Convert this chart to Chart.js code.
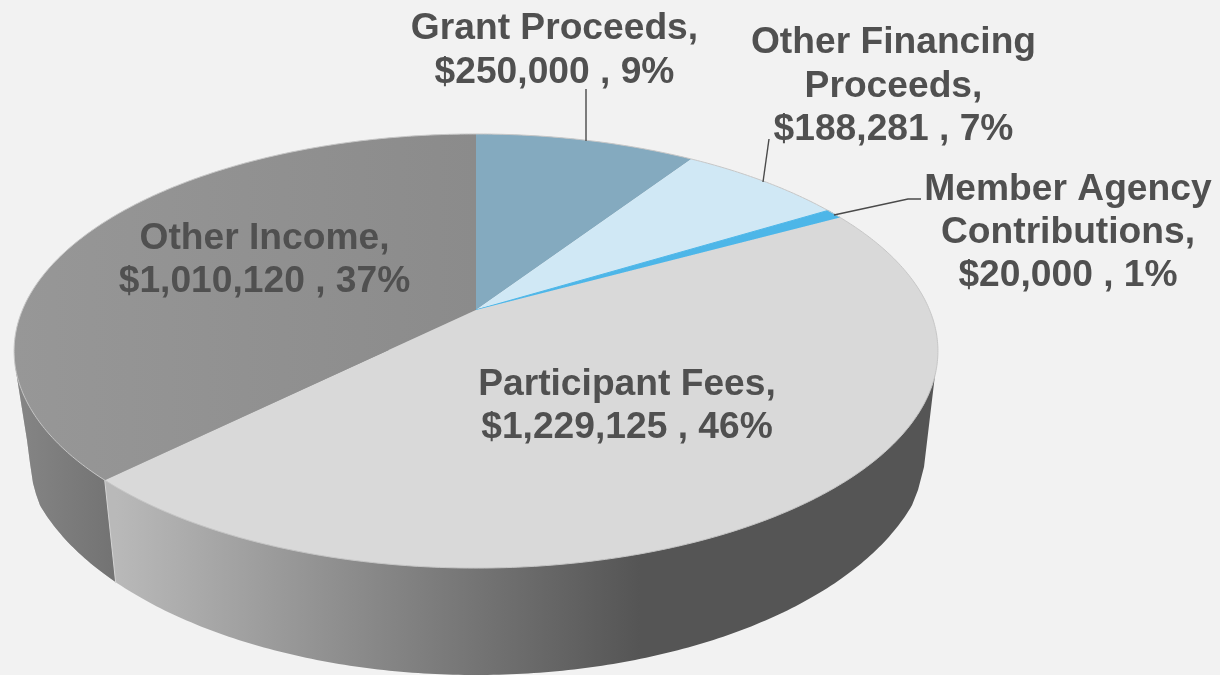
<!DOCTYPE html>
<html><head><meta charset="utf-8">
<style>html,body{margin:0;padding:0;background:#f2f2f2}canvas{display:block}</style>
<script src="https://cdn.jsdelivr.net/npm/chart.js@4"></script>
</head><body><canvas id="c" width="1220" height="675"></canvas>
<script>
const categories = ["Grant Proceeds","Other Financing Proceeds","Member Agency Contributions","Participant Fees","Other Income"];
const values = [250000,188281,20000,1229125,1010120];
const percents = [9,7,1,46,37];
const sliceColors = ["#84aabf","#d0e8f5","#4db6e8","#d9d9d9","#929292"];
const labelLines = [["Grant Proceeds,"],["Other Financing","Proceeds,"],["Member Agency","Contributions,"],["Participant Fees,"],["Other Income,"]];

// layout / style only
const labelPos = [[554.5,29],[893.5,43],[1068,189.5],[627,384.5],[264.5,238.5]];
const leaders = [[[586,89],[586,141]],[[769,139],[763,182]],[[834,215],[908,199],[921,199]],null,null];
const persp = {cx:476,cy:310,a:453.6,b:150.7,k:-0.189};
const base = {cx:476,cy:435,rx:456,ry:240};

function project(ux,uy){const w=1+persp.k*uy;return [persp.cx+persp.a*ux/w,(persp.cy+persp.b*uy)/w];}
function arcPts(a0,a1){const n=Math.max(2,Math.ceil((a1-a0)/0.01));const p=[];
  for(let i=0;i<=n;i++){const a=a0+(a1-a0)*i/n;p.push(project(Math.cos(a),Math.sin(a)));}return p;}
function poly(ctx,pts){pts.forEach((q,i)=>i?ctx.lineTo(q[0],q[1]):ctx.moveTo(q[0],q[1]));}
function poly2(ctx,pts){pts.forEach(q=>ctx.lineTo(q[0],q[1]));}
function wallPath(ctx){
  ctx.beginPath();
  poly(ctx,[[15,350],[15,365],[27,440],[30,463],[33,483],[36,494]]);
  const t0=Math.acos(-436/base.rx),t1=Math.acos(436/base.rx);
  for(let i=0;i<=200;i++){const t=t0+(t1-t0)*i/200;ctx.lineTo(base.cx+base.rx*Math.cos(t),base.cy+base.ry*Math.sin(t));}
  poly2(ctx,[[918,490],[924,467],[935,375],[937,350]]);
  ctx.closePath();
}

const pie3d = {
  id:'pie3d',
  beforeDatasetDraw(chart,args){
    const ctx=chart.ctx, arcs=chart.getDatasetMeta(0).data;
    // side wall
    const seamA=arcs[3].endAngle, s=project(Math.cos(seamA),Math.sin(seamA));
    const e=[s[0]+11,s[1]+103];
    ctx.save();
    wallPath(ctx);
    const g=ctx.createLinearGradient(116,0,640,0);
    g.addColorStop(0,'#b9b9b9');g.addColorStop(1,'#555555');
    ctx.fillStyle=g;ctx.fill();
    ctx.save();
    ctx.beginPath();poly(ctx,[[0,300],[s[0],300],[s[0],s[1]],[e[0],e[1]],[e[0]+6,e[1]+60],[0,e[1]+60]]);ctx.closePath();ctx.clip();
    wallPath(ctx);
    const gl=ctx.createLinearGradient(18,0,113,0);
    gl.addColorStop(0,'#858585');gl.addColorStop(1,'#737373');
    ctx.fillStyle=gl;ctx.fill();
    ctx.restore();
    ctx.strokeStyle='#d4d4d4';ctx.lineWidth=1;
    ctx.beginPath();ctx.moveTo(s[0],s[1]);ctx.lineTo(e[0],e[1]);ctx.stroke();
    // top face, from the library's arc angles
    arcs.forEach((el,i)=>{
      const pts=arcPts(el.startAngle,el.endAngle);
      ctx.beginPath();ctx.moveTo(persp.cx,persp.cy);poly2(ctx,pts);ctx.closePath();
      if(i===4){const f=ctx.createLinearGradient(14,0,476,0);f.addColorStop(0,'#979797');f.addColorStop(1,'#8b8b8b');ctx.fillStyle=f;}
      else ctx.fillStyle=el.options.backgroundColor;
      ctx.fill();
      if(i===2){ctx.strokeStyle=el.options.backgroundColor;ctx.lineWidth=1;ctx.stroke();}
    });
    // rim
    ctx.strokeStyle='#c6c6c6';ctx.lineWidth=1;
    ctx.beginPath();poly(ctx,arcPts(-Math.PI/2,1.5*Math.PI));ctx.closePath();ctx.stroke();
    // leader lines
    ctx.strokeStyle='#4a4a4a';ctx.lineWidth=1.4;
    leaders.forEach(l=>{if(!l)return;ctx.beginPath();poly(ctx,l);ctx.stroke();});
    // labels
    ctx.fillStyle='#505050';ctx.font='bold 37.2px "Liberation Sans", Arial, sans-serif';
    ctx.textAlign='center';ctx.textBaseline='middle';
    categories.forEach((c,i)=>{
      const lines=[...labelLines[i],"$"+values[i].toLocaleString('en-US')+" , "+percents[i]+"%"];
      lines.forEach((t,j)=>ctx.fillText(t,labelPos[i][0],labelPos[i][1]+j*43.3));
    });
    ctx.restore();
    return false;
  }
};
new Chart(document.getElementById('c'),{
  type:'pie',
  data:{labels:categories,datasets:[{data:values,backgroundColor:sliceColors,borderWidth:0}]},
  options:{responsive:false,animation:false,plugins:{legend:{display:false},tooltip:{enabled:false}},layout:{padding:0}},
  plugins:[pie3d]
});
</script></body></html>
